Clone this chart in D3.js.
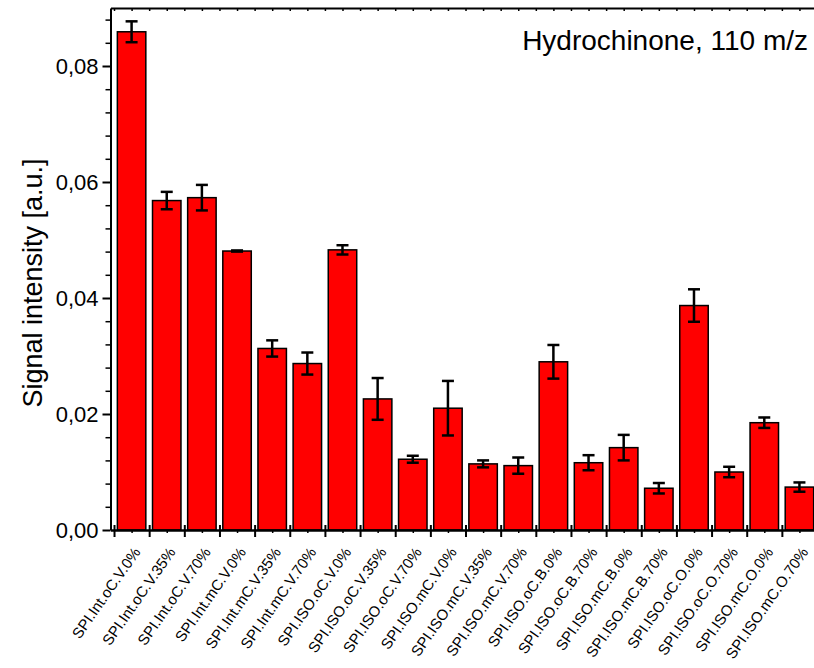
<!DOCTYPE html>
<html>
<head>
<meta charset="utf-8">
<script src="https://cdn.jsdelivr.net/npm/d3@7"></script>
<style>
  html, body { margin: 0; padding: 0; background: #fff; }
  svg text { font-family: "Liberation Sans", Arial, sans-serif; fill: #000; }
</style>
</head>
<body>
<div id="chart"></div>
<script>
const WIDTH = 814
const HEIGHT = 668

const categories = [
  "SPI.Int.oC.V.0%", "SPI.Int.oC.V.35%", "SPI.Int.oC.V.70%",
  "SPI.Int.mC.V.0%", "SPI.Int.mC.V.35%", "SPI.Int.mC.V.70%",
  "SPI.ISO.oC.V.0%", "SPI.ISO.oC.V.35%", "SPI.ISO.oC.V.70%",
  "SPI.ISO.mC.V.0%", "SPI.ISO.mC.V.35%", "SPI.ISO.mC.V.70%",
  "SPI.ISO.oC.B.0%", "SPI.ISO.oC.B.70%", "SPI.ISO.mC.B.0%",
  "SPI.ISO.mC.B.70%", "SPI.ISO.oC.O.0%", "SPI.ISO.oC.O.70%",
  "SPI.ISO.mC.O.0%", "SPI.ISO.mC.O.70%"
]
const values = [
  0.0859, 0.0568, 0.0573, 0.0481, 0.0313, 0.0287, 0.0483, 0.0226, 0.0122, 0.0210,
  0.0114, 0.0111, 0.0290, 0.0116, 0.0142, 0.0072, 0.0387, 0.0100, 0.0185, 0.0074
]
const errors = [
  0.0018, 0.0015, 0.0022, 0.0001, 0.0014, 0.0019, 0.0008, 0.0036, 0.0006, 0.0047,
  0.0006, 0.0014, 0.0029, 0.0013, 0.0022, 0.0009, 0.0028, 0.0009, 0.0009, 0.0008
]
const yTicks = [0, 0.02, 0.04, 0.06, 0.08]
const title = "Hydrochinone, 110 m/z"
const yLabel = "Signal intensity [a.u.]"

const margin = {left: 110.5, top: 8, bottom: 530}
const step = 35.15

const data = categories.map((c, i) => ({name: c, idx: i + 1, value: values[i], err: errors[i]}))

// x runs on the category index, so boundary ticks sit at i +/- 0.5
const x = d3.scaleLinear()
  .domain([0.4, 20.6])
  .range([margin.left, margin.left + 20.2 * step])

const y = d3.scaleLinear()
  .domain([0, 0.09])
  .range([margin.bottom, margin.top])

const locale = d3.formatLocale({decimal: ",", thousands: ".", grouping: [3], currency: ["", ""]})
const fmt = locale.format(".2f")

const svg = d3.select("#chart")
  .append("svg")
  .attr("width", WIDTH)
  .attr("height", HEIGHT)

// bars
svg.append("g")
  .selectAll("rect")
  .data(data)
  .join("rect")
  .attr("x", d => x(d.idx - 0.405))
  .attr("width", x(0.81) - x(0))
  .attr("y", d => y(d.value))
  .attr("height", d => y(0) - y(d.value))
  .attr("fill", "#ff0000")
  .attr("stroke", "#000")
  .attr("stroke-width", 1.5)

// error bars
const err = svg.append("g")
  .attr("stroke", "#000")
  .attr("stroke-width", 2.5)
  .selectAll("g")
  .data(data)
  .join("g")

err.append("line")
  .attr("x1", d => x(d.idx)).attr("x2", d => x(d.idx))
  .attr("y1", d => y(d.value + d.err)).attr("y2", d => y(d.value - d.err))
err.append("line")
  .attr("x1", d => x(d.idx) - 6).attr("x2", d => x(d.idx) + 6)
  .attr("y1", d => y(d.value + d.err)).attr("y2", d => y(d.value + d.err))
err.append("line")
  .attr("x1", d => x(d.idx) - 6).attr("x2", d => x(d.idx) + 6)
  .attr("y1", d => y(d.value - d.err)).attr("y2", d => y(d.value - d.err))

// left axis
const yMinor = d3.range(0, 0.0901, 0.004).filter(v => !yTicks.some(t => Math.abs(t - v) < 1e-6))
svg.append("g")
  .attr("transform", `translate(${margin.left},0)`)
  .call(d3.axisLeft(y).tickValues(yMinor).tickSize(5).tickFormat(""))
  .call(g => g.select(".domain").remove())
  .selectAll("line").attr("stroke-width", 1.5)

svg.append("g")
  .attr("class", "y-axis")
  .attr("transform", `translate(${margin.left},0)`)
  .call(d3.axisLeft(y).tickValues(yTicks).tickSize(8).tickPadding(4).tickFormat(fmt).tickSizeOuter(0))
  .call(g => g.select(".domain").attr("stroke-width", 2))
  .call(g => g.selectAll("line").attr("stroke-width", 2))
  .call(g => g.selectAll("text").attr("font-size", 22).attr("font-family", null))

// top axis (mirror, inward ticks)
svg.append("g")
  .attr("transform", `translate(0,${margin.top})`)
  .call(d3.axisBottom(x).tickValues(d3.range(0.5, 20.6, 0.5)).tickSize(3).tickFormat("").tickSizeOuter(0))
  .call(g => g.select(".domain").attr("stroke-width", 2))
  .selectAll(".tick line").attr("stroke-width", 1.5)

// bottom axis: majors at category boundaries, minors at centers
svg.append("g")
  .attr("transform", `translate(0,${margin.bottom})`)
  .call(d3.axisBottom(x).tickValues(d3.range(1, 21)).tickSize(3).tickFormat("").tickSizeOuter(0))
  .call(g => g.select(".domain").remove())
  .selectAll("line").attr("stroke-width", 1.5)

svg.append("g")
  .attr("transform", `translate(0,${margin.bottom})`)
  .call(d3.axisBottom(x).tickValues(d3.range(0.5, 20.6, 1)).tickSize(7).tickFormat("").tickSizeOuter(0))
  .call(g => g.select(".domain").attr("stroke-width", 2.5))
  .call(g => g.selectAll(".tick line").attr("y1", -5).attr("stroke-width", 2))

// category labels, rotated
svg.append("g")
  .selectAll("text")
  .data(data)
  .join("text")
  .attr("text-anchor", "end")
  .attr("font-size", 15)
  .attr("transform", d => `translate(${x(d.idx) + 9.5},${margin.bottom + 22}) rotate(-55)`)
  .text(d => d.name)

// axis title
svg.append("text")
  .attr("text-anchor", "middle")
  .attr("font-size", 27)
  .attr("transform", `translate(42,283) rotate(-90)`)
  .text(yLabel)

svg.append("text")
  .attr("text-anchor", "end")
  .attr("font-size", 28)
  .attr("x", 808)
  .attr("y", 50)
  .text(title)
</script>
</body>
</html>
